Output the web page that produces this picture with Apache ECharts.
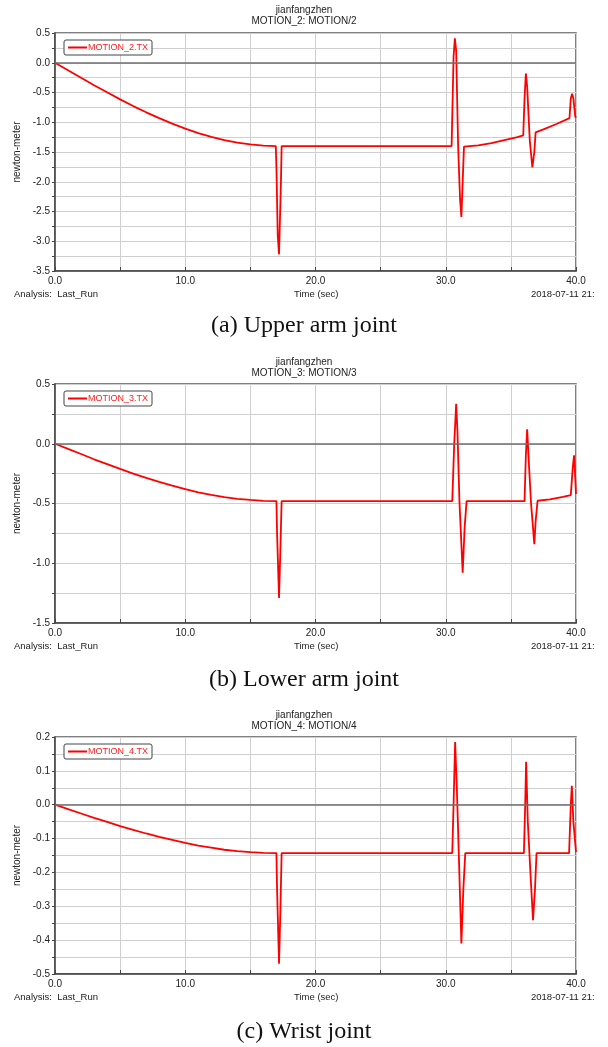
<!DOCTYPE html>
<html>
<head>
<meta charset="utf-8">
<script src="https://cdn.jsdelivr.net/npm/echarts@6/dist/echarts.min.js"></script>
<style>
html, body { margin: 0; padding: 0; background: #fff; }
#chart { width: 608px; height: 1047px; }
</style>
</head>
<body>
<div id="chart"></div>
<script>
// series names, titles, captions
const seriesNames = ['MOTION_2.TX', 'MOTION_3.TX', 'MOTION_4.TX']
const plotTitles = ['MOTION_2: MOTION/2', 'MOTION_3: MOTION/3', 'MOTION_4: MOTION/4']
const captions = ['(a) Upper arm joint', '(b) Lower arm joint', '(c) Wrist joint']

// y ranges: min, max, grid step, label step
const yMins = [-3.5, -1.5, -0.5]
const yMaxs = [0.5, 0.5, 0.2]
const yGridSteps = [0.25, 0.25, 0.05]
const yLabelSteps = [0.5, 0.5, 0.1]

// (a) upper arm joint
const time_a = [0, 1, 2, 3, 4, 5, 6, 7, 8, 9, 10, 11, 12, 13, 14, 15, 16,
    16.95, 17.0, 17.1, 17.2, 17.3, 17.35, 17.4,
    30.45, 30.6, 30.7, 30.8, 30.95, 31.1, 31.2, 31.3, 31.4,
    32.5, 33.5, 34.5, 35.5, 35.95,
    36.05, 36.15, 36.25, 36.45, 36.65, 36.8, 36.9,
    37.5, 38.5, 39.5,
    39.6, 39.7, 39.8, 39.95, 40]
const torque_a = [0, -0.126, -0.252, -0.378, -0.497, -0.616, -0.728, -0.833, -0.931, -1.022, -1.106, -1.183, -1.246, -1.302, -1.344, -1.372, -1.393,
    -1.40, -1.76, -2.9, -3.22, -2.4, -1.98, -1.40,
    -1.40, 0.1, 0.41, 0.2, -1.4, -2.3, -2.59, -2.0, -1.41,
    -1.39, -1.35, -1.30, -1.25, -1.22,
    -0.6, -0.18, -0.4, -1.3, -1.76, -1.5, -1.17,
    -1.12, -1.03, -0.93,
    -0.6, -0.52, -0.6, -0.92, -0.9]

// (b) lower arm joint
const time_b = [0, 1, 2, 3, 4, 5, 6, 7, 8, 9, 10, 11, 12, 13, 14, 15, 16,
    17.0, 17.05, 17.2, 17.3, 17.4,
    30.5, 30.65, 30.8, 30.9, 31.05, 31.3, 31.45, 31.6,
    36.05, 36.15, 36.25, 36.4, 36.55, 36.8, 36.9, 37.05,
    38, 39, 39.6, 39.75, 39.85, 39.95, 40]
const torque_b = [0, -0.043, -0.086, -0.13, -0.17, -0.211, -0.25, -0.286, -0.319, -0.35, -0.379, -0.406, -0.427, -0.446, -0.461, -0.47, -0.478,
    -0.48, -0.75, -1.29, -0.9, -0.48,
    -0.48, 0.0, 0.335, 0.1, -0.48, -1.08, -0.7, -0.48,
    -0.48, -0.1, 0.12, -0.2, -0.5, -0.84, -0.65, -0.477,
    -0.465, -0.445, -0.43, -0.2, -0.096, -0.3, -0.42]

// (c) wrist joint
const time_c = [0, 1, 2, 3, 4, 5, 6, 7, 8, 9, 10, 11, 12, 13, 14, 15, 16,
    17.0, 17.05, 17.2, 17.3, 17.4,
    30.5, 30.6, 30.72, 30.85, 31.0, 31.2, 31.35, 31.5,
    36.0, 36.1, 36.17, 36.3, 36.5, 36.7, 36.85, 36.97,
    39.47, 39.6, 39.68, 39.8, 40]
const torque_c = [0, -0.013, -0.026, -0.039, -0.051, -0.063, -0.074, -0.085, -0.095, -0.104, -0.113, -0.121, -0.127, -0.133, -0.137, -0.140, -0.142,
    -0.143, -0.25, -0.47, -0.32, -0.143,
    -0.143, 0.0, 0.185, 0.05, -0.143, -0.41, -0.25, -0.143,
    -0.143, 0.0, 0.127, -0.05, -0.2, -0.341, -0.25, -0.143,
    -0.143, 0.0, 0.056, -0.05, -0.14]

const times = [time_a, time_b, time_c]
const torques = [torque_a, torque_b, torque_c]

// layout of the three panels
const gridTops = [33, 384, 737]
const gridHeights = [238, 239, 237]
const titleTops = [5, 357, 710]
const footerTops = [289, 641, 992]
const captionTops = [314, 668, 1020]

const FONT = '"Liberation Sans", Arial, sans-serif'
const SERIF = '"Liberation Serif", "Times New Roman", serif'

const chart = echarts.init(document.getElementById('chart'))

let grids = [], xAxes = [], yAxes = [], series = [], legends = [], graphics = []

for (let i = 0; i < 3; i++) {
    grids.push({
        left: 55, right: 32, top: gridTops[i], height: gridHeights[i],
        show: true, borderColor: '#555', borderWidth: 1.5, backgroundColor: '#fff'
    })
    xAxes.push({
        type: 'value', gridIndex: i, min: 0, max: 40, interval: 5,
        axisLine: { show: true, onZero: false, lineStyle: { color: '#444', width: 1.5 } },
        axisTick: { show: true, inside: true, length: 4, lineStyle: { color: '#444' } },
        axisLabel: {
            color: '#222', fontSize: 10, fontFamily: FONT, margin: 5,
            formatter: v => (Math.round(v) % 10 === 0 ? v.toFixed(1) : '')
        },
        splitLine: { show: true, lineStyle: { color: '#cfcfcf', width: 1 } }
    })
    const step = yLabelSteps[i]
    yAxes.push({
        type: 'value', gridIndex: i, min: yMins[i], max: yMaxs[i], interval: yGridSteps[i],
        name: 'newton-meter', nameLocation: 'middle', nameGap: 29,
        nameTextStyle: { color: '#222', fontSize: 10, fontFamily: FONT },
        axisLine: { show: true, lineStyle: { color: '#444', width: 1.5 } },
        axisTick: { show: true, length: 3, lineStyle: { color: '#444' } },
        axisLabel: {
            color: '#222', fontSize: 10, fontFamily: FONT, margin: 5,
            formatter: v => {
                const k = v / step
                return Math.abs(k - Math.round(k)) < 1e-6 ? (Math.round(k) * step).toFixed(1) : ''
            }
        },
        splitLine: { show: true, lineStyle: { color: '#cfcfcf', width: 1 } }
    })
    series.push({
        name: seriesNames[i], type: 'line', xAxisIndex: i, yAxisIndex: i,
        symbol: 'none', smooth: false, animation: false,
        lineStyle: { color: '#ff0000', width: 1.8 },
        itemStyle: { color: '#ff0000' },
        data: times[i].map((t, j) => [t, torques[i][j]]),
        markLine: {
            silent: true, symbol: 'none', animation: false,
            label: { show: false },
            lineStyle: { color: '#6e6e6e', width: 1.5, type: 'solid' },
            data: [{ yAxis: 0 }]
        },
        z: 3
    })
    legends.push({
        data: [seriesNames[i]], left: 64, top: gridTops[i] + 7,
        orient: 'horizontal', icon: 'rect', itemWidth: 19, itemHeight: 2, itemGap: 2,
        padding: [3, 4, 3, 4], borderColor: '#444', borderWidth: 1, borderRadius: 2,
        backgroundColor: '#fff',
        textStyle: { color: '#ff2020', fontSize: 9, fontFamily: FONT, padding: [0, 0, 0, -4] }
    })
    // titles above each plot
    graphics.push({
        type: 'text', left: 'center', top: titleTops[i],
        style: { text: 'jianfangzhen', fill: '#222', font: '10px ' + FONT, align: 'center' }
    }, {
        type: 'text', left: 'center', top: titleTops[i] + 11,
        style: { text: plotTitles[i], fill: '#222', font: '10px ' + FONT, align: 'center' }
    })
    // footer row and caption
    graphics.push({
        type: 'text', left: 14, top: footerTops[i],
        style: { text: 'Analysis:  Last_Run', fill: '#222', font: '9.5px ' + FONT }
    }, {
        type: 'text', left: 294, top: footerTops[i],
        style: { text: 'Time (sec)', fill: '#222', font: '9.5px ' + FONT }
    }, {
        type: 'text', left: 531, top: footerTops[i],
        style: { text: '2018-07-11 21:', fill: '#222', font: '9.5px ' + FONT }
    }, {
        type: 'text', left: 'center', top: captionTops[i],
        style: { text: captions[i], fill: '#111', font: '24px ' + SERIF }
    })
}

const option = {
    backgroundColor: '#fff',
    animation: false,
    grid: grids,
    xAxis: xAxes,
    yAxis: yAxes,
    legend: legends,
    series: series,
    graphic: graphics
}

chart.setOption(option)
</script>
</body>
</html>
